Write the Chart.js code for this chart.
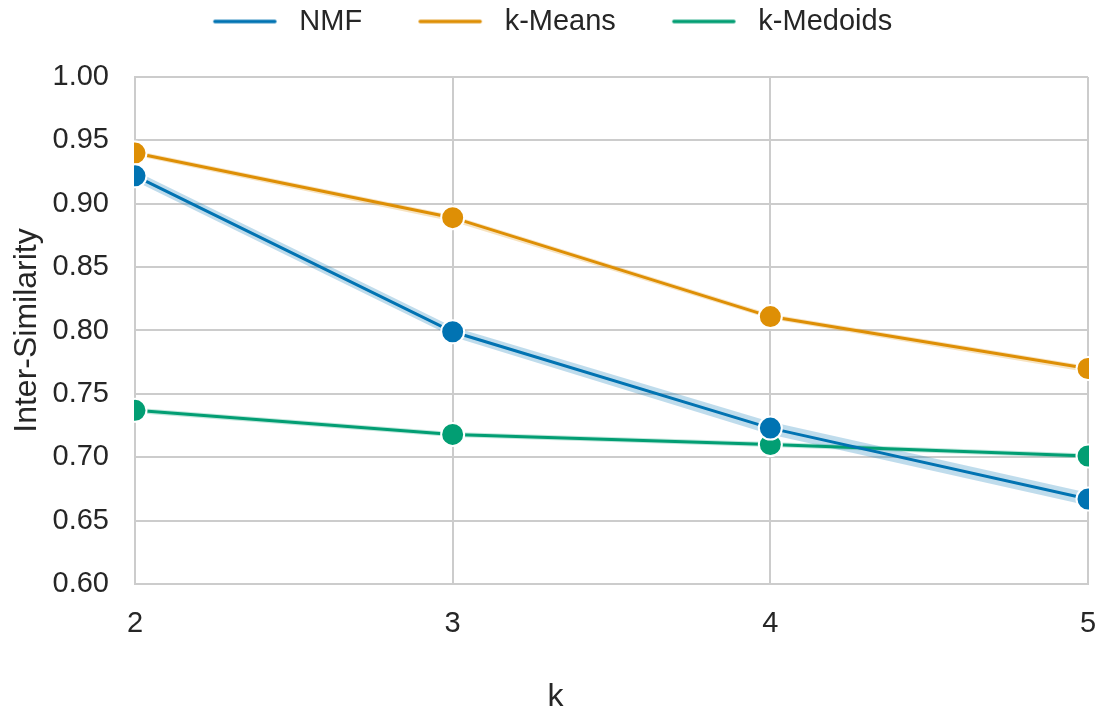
<!DOCTYPE html>
<html>
<head>
<meta charset="utf-8">
<script src="https://cdn.jsdelivr.net/npm/chart.js@4.4.1/dist/chart.umd.min.js"></script>
<style>
  html, body { margin: 0; padding: 0; background: #fff; }
  #wrap { width: 1097px; height: 708px; }
</style>
</head>
<body>
<div id="wrap"><canvas id="chart" width="1097" height="708"></canvas></div>
<script>
const K_VALUES = ['2', '3', '4', '5']

const NMF = [0.922, 0.799, 0.723, 0.667]
const NMF_LOW = [0.918, 0.795, 0.718, 0.662]
const NMF_HIGH = [0.926, 0.803, 0.728, 0.672]

const KMEANS = [0.940, 0.889, 0.811, 0.770]
const KMEANS_LOW = [0.938, 0.886, 0.809, 0.767]
const KMEANS_HIGH = [0.942, 0.891, 0.813, 0.772]

const KMEDOIDS = [0.737, 0.718, 0.710, 0.701]
const KMEDOIDS_LOW = [0.735, 0.716, 0.708, 0.699]
const KMEDOIDS_HIGH = [0.739, 0.720, 0.712, 0.703]

const Y_TICKS = [0.60, 0.65, 0.70, 0.75, 0.80, 0.85, 0.90, 0.95, 1.00]

const X_TITLE = 'k'
const Y_TITLE = 'Inter-Similarity'

const FONT = '"Liberation Sans", Arial, sans-serif'
const TEXT = '#262626'
const GRID = '#cccccc'

const BLUE = '#0173b2'
const ORANGE = '#de8f05'
const GREEN = '#029e73'

function withAlpha(hex, alpha) {
  const n = parseInt(hex.replace('#', ''), 16)
  return `rgba(${(n >> 16) & 255}, ${(n >> 8) & 255}, ${n & 255}, ${alpha})`
}

// legend swatch: a short line with blank room in front of it
function swatch(color) {
  const c = document.createElement('canvas')
  c.width = 111
  c.height = 8
  const ctx = c.getContext('2d')
  ctx.strokeStyle = color
  ctx.lineWidth = 3.5
  ctx.lineCap = 'round'
  ctx.beginPath()
  ctx.moveTo(41, 4)
  ctx.lineTo(101, 4)
  ctx.stroke()
  return c
}

function lineSet(label, data, color) {
  return {
    label,
    data,
    borderColor: color,
    backgroundColor: color,
    borderWidth: 3,
    pointRadius: 11.5,
    pointHoverRadius: 11.5,
    pointBorderColor: '#ffffff',
    pointBorderWidth: 2,
    pointBackgroundColor: color,
    fill: false,
    tension: 0,
    clip: 1,
    order: 0
  }
}

function bandSet(low, high, color) {
  return [
    { label: '_band', data: low, borderWidth: 0, pointRadius: 0, fill: false, order: 5 },
    { label: '_band', data: high, borderWidth: 0, pointRadius: 0, fill: '-1', backgroundColor: withAlpha(color, 0.25), order: 5 }
  ]
}

const datasets = [
  ...bandSet(NMF_LOW, NMF_HIGH, BLUE),
  ...bandSet(KMEANS_LOW, KMEANS_HIGH, ORANGE),
  ...bandSet(KMEDOIDS_LOW, KMEDOIDS_HIGH, GREEN),
  lineSet('NMF', NMF, BLUE),
  lineSet('k-Means', KMEANS, ORANGE),
  lineSet('k-Medoids', KMEDOIDS, GREEN)
]

// extra room under the legend so the plot starts lower
const legendGap = {
  id: 'legendGap',
  beforeInit(chart) {
    const fit = chart.legend.fit
    chart.legend.fit = function () {
      fit.call(this)
      this.height += 31
    }
  }
}

// x label sits centred on the figure, not on the plot area
const xTitle = {
  id: 'xTitle',
  afterDraw(chart) {
    const ctx = chart.ctx
    ctx.save()
    ctx.fillStyle = TEXT
    ctx.font = `32px ${FONT}`
    ctx.textAlign = 'center'
    ctx.textBaseline = 'alphabetic'
    ctx.fillText(X_TITLE, chart.width / 2 + 7, 706)
    ctx.restore()
  }
}

new Chart(document.getElementById('chart'), {
  type: 'line',
  data: { labels: K_VALUES, datasets },
  plugins: [legendGap, xTitle],
  options: {
    responsive: false,
    animation: false,
    layout: { autoPadding: false, padding: { top: -10, right: 9, bottom: 0, left: -22 } },
    plugins: {
      tooltip: { enabled: false },
      legend: {
        position: 'top',
        labels: {
          filter: (item) => item.text !== '_band',
          generateLabels: (chart) => {
            const items = Chart.defaults.plugins.legend.labels.generateLabels(chart)
            return items.map((item) => {
              const ds = chart.data.datasets[item.datasetIndex]
              return { ...item, pointStyle: swatch(ds.borderColor), lineWidth: 1 }
            })
          },
          usePointStyle: true,
          pointStyleWidth: 111,
          boxHeight: 8,
          padding: 17,
          color: TEXT,
          font: { family: FONT, size: 29 }
        }
      }
    },
    scales: {
      x: {
        offset: false,
        grid: { color: GRID, lineWidth: 2, drawTicks: false },
        border: { color: GRID, width: 2 },
        ticks: { color: TEXT, font: { family: FONT, size: 29 }, padding: 23 },
        afterFit: (scale) => {
          scale.height = 124
          scale.paddingLeft = 0
          scale.paddingRight = 0
        }
      },
      y: {
        min: 0.6,
        max: 1.0,
        afterBuildTicks: (scale) => { scale.ticks = Y_TICKS.map((v) => ({ value: v })) },
        grid: { color: GRID, lineWidth: 2, drawTicks: false },
        border: { color: GRID, width: 2 },
        ticks: { color: TEXT, font: { family: FONT, size: 29 }, padding: 26, callback: (v) => Number(v).toFixed(2) },
        title: { display: true, text: Y_TITLE, color: TEXT, font: { family: FONT, size: 32 }, padding: { top: 30, bottom: 0 } },
        afterFit: (scale) => { scale.width = 157 }
      }
    }
  }
})
</script>
</body>
</html>
